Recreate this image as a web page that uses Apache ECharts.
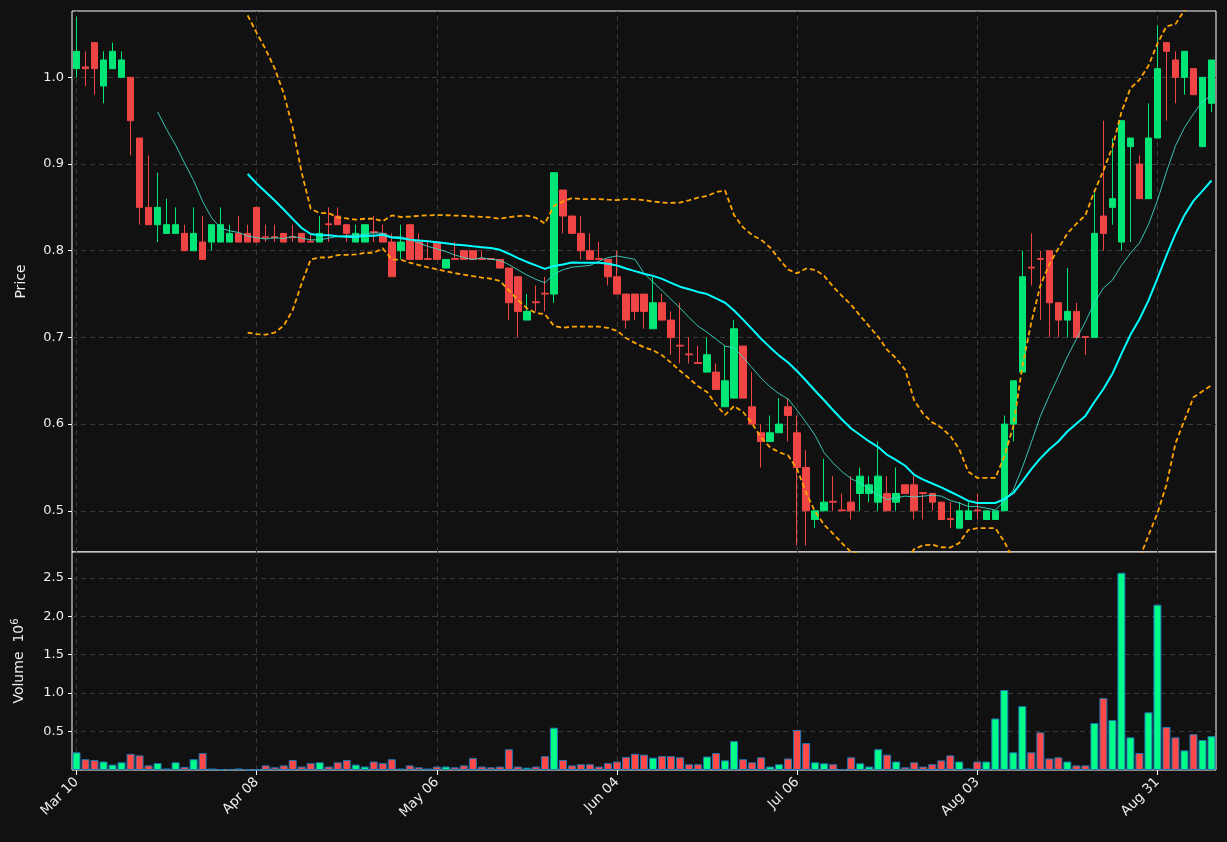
<!DOCTYPE html>
<html><head><meta charset="utf-8">
<script src="https://cdn.jsdelivr.net/npm/echarts@6/dist/echarts.min.js"></script>
<style>html,body{margin:0;padding:0;background:#111;}#c{width:1227px;height:842px;}</style>
</head><body><div id="c"></div>
<script>
const tickLabels = ['Mar 10','Apr 08','May 06','Jun 04','Jul 06','Aug 03','Aug 31'];
const priceTicks = [0.5,0.6,0.7,0.8,0.9,1.0];
const volumeTicks = [0.5,1.0,1.5,2.0,2.5];
const opens = [1.01,1.012,1.04,0.99,1.01,1.00,1.00,0.93,0.85,0.83,0.82,0.82,0.82,0.80,0.81,0.81,0.81,0.81,0.82,0.82,
0.85,0.816,0.816,0.82,0.816,0.82,0.811,0.81,0.831,0.84,0.83,0.81,0.81,0.822,0.82,0.81,0.80,0.83,0.81,0.791,
0.81,0.78,0.791,0.80,0.80,0.791,0.791,0.79,0.78,0.77,0.72,0.741,0.751,0.75,0.87,0.84,0.82,0.80,0.791,0.79,
0.77,0.75,0.75,0.75,0.71,0.74,0.72,0.691,0.681,0.671,0.66,0.66,0.62,0.63,0.69,0.62,0.59,0.58,0.59,0.62,
0.59,0.55,0.49,0.50,0.511,0.501,0.51,0.52,0.52,0.51,0.52,0.51,0.53,0.53,0.521,0.52,0.51,0.491,0.48,0.49,
0.501,0.49,0.49,0.50,0.60,0.66,0.781,0.791,0.80,0.74,0.72,0.73,0.701,0.70,0.84,0.85,0.81,0.92,0.90,0.86,
0.93,1.04,1.02,1.00,1.01,0.92,0.97];
const closes = [1.03,1.01,1.01,1.02,1.03,1.02,0.95,0.85,0.83,0.85,0.83,0.83,0.80,0.82,0.79,0.83,0.83,0.82,0.81,0.81,
0.81,0.815,0.815,0.81,0.815,0.81,0.81,0.82,0.83,0.83,0.82,0.82,0.83,0.821,0.81,0.77,0.81,0.79,0.79,0.79,
0.79,0.79,0.79,0.79,0.79,0.79,0.79,0.78,0.74,0.73,0.73,0.74,0.75,0.89,0.84,0.82,0.80,0.79,0.79,0.77,
0.75,0.72,0.73,0.73,0.74,0.72,0.70,0.69,0.68,0.67,0.68,0.64,0.65,0.71,0.63,0.60,0.58,0.59,0.60,0.61,
0.55,0.50,0.50,0.51,0.51,0.50,0.50,0.54,0.53,0.54,0.50,0.52,0.52,0.50,0.52,0.51,0.49,0.49,0.50,0.50,
0.50,0.50,0.50,0.60,0.65,0.77,0.78,0.79,0.74,0.72,0.73,0.70,0.70,0.82,0.82,0.86,0.95,0.93,0.86,0.93,
1.01,1.03,1.00,1.03,0.98,1.00,1.02];
const highs = [1.07,1.03,1.04,1.03,1.04,1.03,1.00,0.93,0.91,0.89,0.86,0.85,0.83,0.85,0.84,0.83,0.85,0.83,0.84,0.83,
0.85,0.83,0.83,0.82,0.83,0.82,0.82,0.84,0.85,0.85,0.83,0.83,0.83,0.84,0.83,0.82,0.83,0.83,0.82,0.81,
0.81,0.79,0.81,0.80,0.80,0.80,0.79,0.79,0.78,0.77,0.75,0.76,0.77,0.89,0.87,0.84,0.84,0.82,0.81,0.79,
0.80,0.75,0.75,0.75,0.77,0.75,0.73,0.74,0.70,0.69,0.70,0.67,0.69,0.72,0.69,0.66,0.60,0.61,0.63,0.63,
0.61,0.57,0.50,0.56,0.54,0.52,0.54,0.55,0.54,0.58,0.54,0.55,0.53,0.54,0.52,0.52,0.51,0.51,0.51,0.51,
0.52,0.50,0.50,0.61,0.65,0.80,0.82,0.80,0.80,0.74,0.78,0.74,0.70,0.87,0.95,0.93,0.95,0.93,0.91,0.97,
1.06,1.04,1.03,1.03,1.01,1.00,1.02];
const lows = [1.00,0.99,0.98,0.97,1.01,1.00,0.91,0.83,0.83,0.81,0.82,0.82,0.80,0.80,0.79,0.80,0.81,0.81,0.81,0.81,
0.81,0.81,0.81,0.81,0.81,0.81,0.81,0.81,0.81,0.83,0.81,0.81,0.81,0.81,0.81,0.77,0.79,0.79,0.79,0.79,
0.79,0.78,0.79,0.79,0.79,0.79,0.79,0.78,0.72,0.70,0.72,0.73,0.73,0.74,0.82,0.82,0.79,0.79,0.79,0.76,
0.75,0.71,0.72,0.71,0.71,0.72,0.68,0.67,0.67,0.67,0.66,0.64,0.62,0.63,0.63,0.60,0.55,0.58,0.59,0.58,
0.46,0.46,0.48,0.50,0.50,0.50,0.49,0.50,0.51,0.50,0.50,0.50,0.52,0.49,0.49,0.50,0.49,0.48,0.48,0.49,
0.49,0.49,0.49,0.50,0.58,0.66,0.76,0.72,0.70,0.70,0.70,0.70,0.68,0.70,0.80,0.83,0.80,0.81,0.86,0.86,
0.93,0.95,0.97,0.98,0.98,0.92,0.96];
const volumes = [0.23,0.14,0.13,0.11,0.07,0.10,0.21,0.19,0.06,0.09,0.02,0.10,0.04,0.14,0.22,0.02,0.01,0.01,0.02,0.005,
0.005,0.06,0.035,0.06,0.13,0.045,0.09,0.10,0.045,0.10,0.13,0.07,0.045,0.11,0.09,0.14,0.02,0.06,0.035,0.02,
0.045,0.045,0.035,0.06,0.155,0.045,0.035,0.045,0.27,0.045,0.03,0.045,0.18,0.55,0.13,0.06,0.075,0.075,0.045,0.09,
0.11,0.17,0.21,0.20,0.16,0.18,0.18,0.165,0.075,0.075,0.175,0.22,0.125,0.375,0.14,0.10,0.165,0.045,0.075,0.15,
0.52,0.35,0.10,0.087,0.075,0.01,0.165,0.087,0.045,0.27,0.20,0.11,0.035,0.10,0.045,0.075,0.125,0.19,0.11,0.02,
0.11,0.11,0.67,1.04,0.23,0.83,0.23,0.49,0.15,0.165,0.11,0.06,0.06,0.61,0.935,0.65,2.565,0.425,0.22,0.75,
2.15,0.56,0.425,0.255,0.465,0.39,0.44];

const N = closes.length;
const cats = Array.from({length:N},(_,i)=>String(i));
function ma(p){return closes.map((_,i)=>{if(i<p-1)return '-';let s=0;for(let j=i-p+1;j<=i;j++)s+=closes[j];return s/p;});}
const ma10 = ma(10), ma20 = ma(20);
const up=[],lo=[];
for(let i=0;i<N;i++){if(i<19){up.push('-');lo.push('-');continue;}
 let m=ma20[i],v=0;for(let j=i-19;j<=i;j++)v+=(closes[j]-m)**2;const s=Math.sqrt(v/20);up.push(m+2*s);lo.push(m-2*s);}
const GREEN='#00e676',RED='#f04545';
const candle = opens.map((o,i)=>[o,closes[i],lows[i],highs[i]]);
const vol = volumes.map((v,i)=>({value:v,itemStyle:{color:closes[i]>=opens[i]?'#00ff88':'#ff4848'}}));
const font='DejaVu Sans';
const gl={color:'#3a3a3a',type:[5,4],width:1};
const tickIdx = tickLabels.map((_,k)=>String(k*20));
const gridLines=(ticks)=>({silent:true,symbol:'none',label:{show:false},lineStyle:gl,animation:false,z:0,
  data:ticks.map(v=>({yAxis:v})).concat(tickIdx.map(c=>({xAxis:c})))});
const xCommon={type:'category',data:cats,boundaryGap:true,axisLine:{show:false},splitLine:{show:false},axisTick:{show:false},axisLabel:{show:false}};
const chart=echarts.init(document.getElementById('c'));
chart.setOption({
 backgroundColor:'#111',animation:false,textStyle:{fontFamily:font},
 grid:[{left:72,right:11,top:11,height:541,show:true,borderColor:'#ffffff',borderWidth:1,backgroundColor:'#111'},
       {left:72,right:11,top:552,height:218,show:true,borderColor:'#ffffff',borderWidth:1,backgroundColor:'#111'}],
 xAxis:[Object.assign({gridIndex:0},xCommon),
   Object.assign({},xCommon,{gridIndex:1,axisTick:{show:true,interval:(i)=>i%20===0,alignWithLabel:true,length:5,lineStyle:{color:'#fff'}},
     axisLabel:{show:true,interval:(i)=>i%20===0,rotate:45,color:'#eee',fontSize:13.5,fontFamily:font,margin:10,formatter:(v,i)=>tickLabels[i/20]||''}})],
 yAxis:[{gridIndex:0,min:0.4525,max:1.0765,name:'Price',nameLocation:'middle',nameGap:44,nameTextStyle:{color:'#eee',fontSize:14},
   axisLine:{show:false},axisTick:{show:true,length:4,lineStyle:{color:'#fff'},customValues:priceTicks},splitLine:{show:false},
   axisLabel:{color:'#eee',fontSize:13,customValues:priceTicks,formatter:(v)=>v.toFixed(1)}},
  {gridIndex:1,min:0,max:2.835,name:'Volume  10{s|6}',nameLocation:'middle',nameGap:44,
   nameTextStyle:{color:'#eee',fontSize:14,rich:{s:{fontSize:10,verticalAlign:'top',color:'#eee',padding:[0,0,8,0]}}},
   axisLine:{show:false},axisTick:{show:true,length:4,lineStyle:{color:'#fff'},customValues:volumeTicks},splitLine:{show:false},
   axisLabel:{color:'#eee',fontSize:13,customValues:volumeTicks,formatter:(v)=>v.toFixed(1)}}],
 series:[
  {type:'candlestick',xAxisIndex:0,yAxisIndex:0,data:candle,barWidth:7,itemStyle:{color:GREEN,color0:RED,borderColor:GREEN,borderColor0:RED,borderWidth:1},markLine:gridLines(priceTicks)},
  {type:'line',xAxisIndex:0,yAxisIndex:0,data:ma10,symbol:'none',lineStyle:{color:'#40e0d0',width:1,opacity:0.85}},
  {type:'line',xAxisIndex:0,yAxisIndex:0,data:ma20,symbol:'none',lineStyle:{color:'#00ffff',width:2}},
  {type:'line',xAxisIndex:0,yAxisIndex:0,data:up,symbol:'none',lineStyle:{color:'#ffa500',width:1.8,type:[5,3]}},
  {type:'line',xAxisIndex:0,yAxisIndex:0,data:lo,symbol:'none',lineStyle:{color:'#ffa500',width:1.8,type:[5,3]}},
  {type:'bar',xAxisIndex:1,yAxisIndex:1,data:vol,barWidth:8,itemStyle:{borderColor:'#1f77b4',borderWidth:1},markLine:gridLines(volumeTicks)}
 ]
});
</script></body></html>
